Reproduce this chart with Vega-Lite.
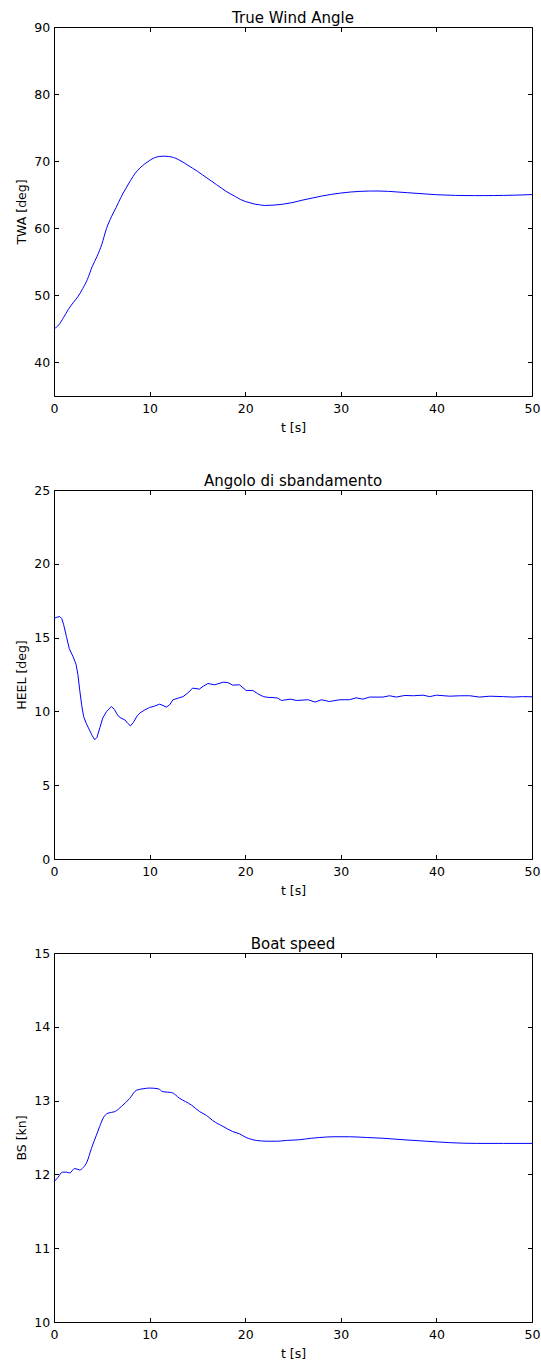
{
  "$schema": "https://vega.github.io/schema/vega-lite/v6.json",
  "autosize": {"type": "pad"},
  "padding": {"left": 14, "top": 10, "right": 5, "bottom": 5},
  "background": "white",
  "datasets": {
    "twa": [
      {"t": 0, "v": 45.0}, {"t": 0.5, "v": 45.6}, {"t": 1, "v": 46.7}, {"t": 1.5, "v": 47.9}, {"t": 2, "v": 48.9},
      {"t": 2.5, "v": 49.8}, {"t": 3, "v": 51.0}, {"t": 3.5, "v": 52.4}, {"t": 4, "v": 54.3}, {"t": 4.5, "v": 55.8},
      {"t": 5, "v": 57.6}, {"t": 5.5, "v": 60.0}, {"t": 6, "v": 61.7}, {"t": 6.5, "v": 63.1}, {"t": 7, "v": 64.6},
      {"t": 7.5, "v": 65.9}, {"t": 8, "v": 67.1}, {"t": 8.5, "v": 68.2}, {"t": 9, "v": 69.0}, {"t": 9.5, "v": 69.6},
      {"t": 10, "v": 70.1}, {"t": 10.5, "v": 70.5}, {"t": 11, "v": 70.7}, {"t": 11.5, "v": 70.75}, {"t": 12, "v": 70.7},
      {"t": 12.5, "v": 70.55}, {"t": 13, "v": 70.25}, {"t": 13.5, "v": 69.85}, {"t": 14, "v": 69.4}, {"t": 14.5, "v": 68.95},
      {"t": 15, "v": 68.5}, {"t": 15.5, "v": 68.0}, {"t": 16, "v": 67.5}, {"t": 16.5, "v": 67.0}, {"t": 17, "v": 66.5},
      {"t": 17.5, "v": 66.0}, {"t": 18, "v": 65.5}, {"t": 18.5, "v": 65.1}, {"t": 19, "v": 64.7}, {"t": 19.5, "v": 64.3},
      {"t": 20, "v": 64.0}, {"t": 20.5, "v": 63.8}, {"t": 21, "v": 63.6}, {"t": 21.5, "v": 63.5}, {"t": 22, "v": 63.4},
      {"t": 23, "v": 63.45}, {"t": 24, "v": 63.6}, {"t": 25, "v": 63.85}, {"t": 26, "v": 64.2}, {"t": 27, "v": 64.5},
      {"t": 28, "v": 64.8}, {"t": 29, "v": 65.05}, {"t": 30, "v": 65.25}, {"t": 31, "v": 65.4}, {"t": 32, "v": 65.5},
      {"t": 33, "v": 65.55}, {"t": 34, "v": 65.55}, {"t": 35, "v": 65.5}, {"t": 36, "v": 65.4}, {"t": 37, "v": 65.3},
      {"t": 38, "v": 65.2}, {"t": 39, "v": 65.1}, {"t": 40, "v": 65.0}, {"t": 41, "v": 64.95}, {"t": 42, "v": 64.9},
      {"t": 43, "v": 64.88}, {"t": 44, "v": 64.87}, {"t": 45, "v": 64.87}, {"t": 46, "v": 64.88}, {"t": 47, "v": 64.9},
      {"t": 48, "v": 64.93}, {"t": 49, "v": 64.97}, {"t": 50, "v": 65.02}
    ],
    "heel": [
      {"t": 0, "v": 16.3}, {"t": 0.3, "v": 16.38}, {"t": 0.6, "v": 16.43}, {"t": 0.8, "v": 16.3}, {"t": 1.0, "v": 15.9},
      {"t": 1.3, "v": 15.07}, {"t": 1.6, "v": 14.25}, {"t": 2.0, "v": 13.7}, {"t": 2.3, "v": 13.2}, {"t": 2.5, "v": 12.5},
      {"t": 2.7, "v": 11.4}, {"t": 2.9, "v": 10.4}, {"t": 3.1, "v": 9.65}, {"t": 3.4, "v": 9.15}, {"t": 3.7, "v": 8.75},
      {"t": 4.0, "v": 8.35}, {"t": 4.26, "v": 8.08}, {"t": 4.5, "v": 8.25}, {"t": 4.8, "v": 8.9}, {"t": 5.1, "v": 9.55},
      {"t": 5.5, "v": 10.0}, {"t": 6.0, "v": 10.33}, {"t": 6.3, "v": 10.15}, {"t": 6.7, "v": 9.7}, {"t": 7.0, "v": 9.55},
      {"t": 7.4, "v": 9.43}, {"t": 7.7, "v": 9.2}, {"t": 8.0, "v": 9.02}, {"t": 8.3, "v": 9.25}, {"t": 8.7, "v": 9.7},
      {"t": 9.0, "v": 9.9}, {"t": 9.5, "v": 10.1}, {"t": 10.0, "v": 10.27}, {"t": 10.5, "v": 10.35}, {"t": 11.05, "v": 10.49},
      {"t": 11.4, "v": 10.4}, {"t": 11.76, "v": 10.29}, {"t": 12.1, "v": 10.45}, {"t": 12.45, "v": 10.79}, {"t": 13.0, "v": 10.9},
      {"t": 13.5, "v": 11.0}, {"t": 14.0, "v": 11.25}, {"t": 14.5, "v": 11.58}, {"t": 15.2, "v": 11.51}, {"t": 15.6, "v": 11.7},
      {"t": 16.1, "v": 11.89}, {"t": 16.8, "v": 11.8}, {"t": 17.7, "v": 11.98}, {"t": 18.2, "v": 11.95}, {"t": 18.7, "v": 11.78},
      {"t": 19.4, "v": 11.8}, {"t": 20.1, "v": 11.42}, {"t": 20.8, "v": 11.42}, {"t": 21.3, "v": 11.2}, {"t": 21.9, "v": 11.0},
      {"t": 22.4, "v": 10.95}, {"t": 22.9, "v": 10.94}, {"t": 23.4, "v": 10.9}, {"t": 23.8, "v": 10.74}, {"t": 24.7, "v": 10.83},
      {"t": 25.4, "v": 10.74}, {"t": 26.6, "v": 10.79}, {"t": 27.3, "v": 10.63}, {"t": 28.0, "v": 10.79}, {"t": 28.8, "v": 10.67},
      {"t": 29.9, "v": 10.79}, {"t": 30.9, "v": 10.79}, {"t": 31.6, "v": 10.92}, {"t": 32.3, "v": 10.83}, {"t": 33.0, "v": 10.97},
      {"t": 34.4, "v": 10.97}, {"t": 35.1, "v": 11.06}, {"t": 35.8, "v": 10.97}, {"t": 36.7, "v": 11.08}, {"t": 37.6, "v": 11.06},
      {"t": 38.6, "v": 11.1}, {"t": 39.3, "v": 11.0}, {"t": 40.0, "v": 11.1}, {"t": 41.4, "v": 11.03}, {"t": 42.5, "v": 11.06},
      {"t": 43.5, "v": 11.06}, {"t": 44.5, "v": 10.97}, {"t": 45.6, "v": 11.03}, {"t": 47.0, "v": 11.0}, {"t": 48.0, "v": 10.97},
      {"t": 49.0, "v": 11.0}, {"t": 50, "v": 10.99}
    ],
    "bs": [
      {"t": 0, "v": 11.9}, {"t": 0.42, "v": 11.96}, {"t": 0.88, "v": 12.03}, {"t": 1.3, "v": 12.03}, {"t": 1.64, "v": 12.02},
      {"t": 2.17, "v": 12.08}, {"t": 2.69, "v": 12.06}, {"t": 3.03, "v": 12.09}, {"t": 3.45, "v": 12.17}, {"t": 3.91, "v": 12.35},
      {"t": 4.43, "v": 12.53}, {"t": 4.78, "v": 12.65}, {"t": 5.13, "v": 12.76}, {"t": 5.65, "v": 12.83}, {"t": 6.35, "v": 12.85},
      {"t": 7.05, "v": 12.92}, {"t": 7.92, "v": 13.03}, {"t": 8.62, "v": 13.14}, {"t": 9.31, "v": 13.16}, {"t": 10.0, "v": 13.17},
      {"t": 10.9, "v": 13.16}, {"t": 11.4, "v": 13.12}, {"t": 12.28, "v": 13.11}, {"t": 13.15, "v": 13.03}, {"t": 14.37, "v": 12.94},
      {"t": 15.24, "v": 12.85}, {"t": 15.94, "v": 12.8}, {"t": 16.6, "v": 12.73}, {"t": 17.68, "v": 12.65}, {"t": 18.7, "v": 12.58},
      {"t": 19.4, "v": 12.55}, {"t": 20.1, "v": 12.5}, {"t": 21.2, "v": 12.46}, {"t": 22.2, "v": 12.45}, {"t": 23.4, "v": 12.45},
      {"t": 24.3, "v": 12.46}, {"t": 25.7, "v": 12.47}, {"t": 26.9, "v": 12.49}, {"t": 27.8, "v": 12.5}, {"t": 29.2, "v": 12.51},
      {"t": 30.9, "v": 12.51}, {"t": 32.7, "v": 12.5}, {"t": 34.4, "v": 12.49}, {"t": 36.5, "v": 12.47}, {"t": 38.9, "v": 12.45},
      {"t": 41.4, "v": 12.43}, {"t": 44.2, "v": 12.42}, {"t": 47.0, "v": 12.42}, {"t": 50, "v": 12.42}
    ]
  },
  "bounds": "flush",
  "spacing": 94,
  "vconcat": [
    {
      "title": "True Wind Angle",
      "width": 478, "height": 369,
      "data": {"name": "twa"},
      "layer": [
        {
          "mark": {"type": "line", "color": "#0000ff", "strokeWidth": 1, "interpolate": "monotone"},
          "encoding": {
            "x": {"field": "t", "type": "quantitative", "scale": {"domain": [0, 50], "nice": false, "zero": false},
                  "axis": {"orient": "bottom", "title": "t [s]", "values": [0, 10, 20, 30, 40, 50]}},
            "y": {"field": "v", "type": "quantitative", "scale": {"domain": [35, 90], "nice": false, "zero": false},
                  "axis": {"orient": "left", "title": "TWA [deg]", "values": [40, 50, 60, 70, 80, 90]}}
          }
        },
        {
          "mark": {"type": "line", "strokeOpacity": 0},
          "encoding": {
            "x": {"field": "t", "type": "quantitative", "axis": {"orient": "top", "labels": false, "title": null, "values": [0, 10, 20, 30, 40, 50]}},
            "y": {"field": "v", "type": "quantitative", "axis": {"orient": "right", "labels": false, "title": null, "values": [40, 50, 60, 70, 80, 90]}}
          }
        }
      ],
      "resolve": {"axis": {"x": "independent", "y": "independent"}}
    },
    {
      "title": "Angolo di sbandamento",
      "width": 478, "height": 369,
      "data": {"name": "heel"},
      "layer": [
        {
          "mark": {"type": "line", "color": "#0000ff", "strokeWidth": 1},
          "encoding": {
            "x": {"field": "t", "type": "quantitative", "scale": {"domain": [0, 50], "nice": false, "zero": false},
                  "axis": {"orient": "bottom", "title": "t [s]", "values": [0, 10, 20, 30, 40, 50]}},
            "y": {"field": "v", "type": "quantitative", "scale": {"domain": [0, 25], "nice": false, "zero": false},
                  "axis": {"orient": "left", "title": "HEEL [deg]", "values": [0, 5, 10, 15, 20, 25]}}
          }
        },
        {
          "mark": {"type": "line", "strokeOpacity": 0},
          "encoding": {
            "x": {"field": "t", "type": "quantitative", "axis": {"orient": "top", "labels": false, "title": null, "values": [0, 10, 20, 30, 40, 50]}},
            "y": {"field": "v", "type": "quantitative", "axis": {"orient": "right", "labels": false, "title": null, "values": [0, 5, 10, 15, 20, 25]}}
          }
        }
      ],
      "resolve": {"axis": {"x": "independent", "y": "independent"}}
    },
    {
      "title": "Boat speed",
      "width": 478, "height": 369,
      "data": {"name": "bs"},
      "layer": [
        {
          "mark": {"type": "line", "color": "#0000ff", "strokeWidth": 1, "interpolate": "monotone"},
          "encoding": {
            "x": {"field": "t", "type": "quantitative", "scale": {"domain": [0, 50], "nice": false, "zero": false},
                  "axis": {"orient": "bottom", "title": "t [s]", "values": [0, 10, 20, 30, 40, 50]}},
            "y": {"field": "v", "type": "quantitative", "scale": {"domain": [10, 15], "nice": false, "zero": false},
                  "axis": {"orient": "left", "title": "BS [kn]", "values": [10, 11, 12, 13, 14, 15]}}
          }
        },
        {
          "mark": {"type": "line", "strokeOpacity": 0},
          "encoding": {
            "x": {"field": "t", "type": "quantitative", "axis": {"orient": "top", "labels": false, "title": null, "values": [0, 10, 20, 30, 40, 50]}},
            "y": {"field": "v", "type": "quantitative", "axis": {"orient": "right", "labels": false, "title": null, "values": [10, 11, 12, 13, 14, 15]}}
          }
        }
      ],
      "resolve": {"axis": {"x": "independent", "y": "independent"}}
    }
  ],
  "config": {
    "view": {"stroke": "#000000", "strokeWidth": 1},
    "axis": {
      "grid": false, "domain": false,
      "ticks": true, "tickColor": "#000000", "tickSize": -4.5, "tickWidth": 1,
      "labelFont": "DejaVu Sans", "labelFontSize": 12.5, "labelColor": "#000000",
      "labelFlush": false, "labelOverlap": false, "labelBound": false,
      "titleFont": "DejaVu Sans", "titleFontSize": 12.5, "titleFontWeight": "normal", "titleColor": "#000000"
    },
    "axisBottom": {"labelPadding": 10.5, "titlePadding": 7},
    "axisLeft": {"labelPadding": 8.8, "titlePadding": 5.5},
    "title": {"font": "DejaVu Sans", "fontSize": 15, "fontWeight": "normal", "color": "#000000", "offset": -5, "baseline": "alphabetic", "anchor": "middle"}
  }
}
